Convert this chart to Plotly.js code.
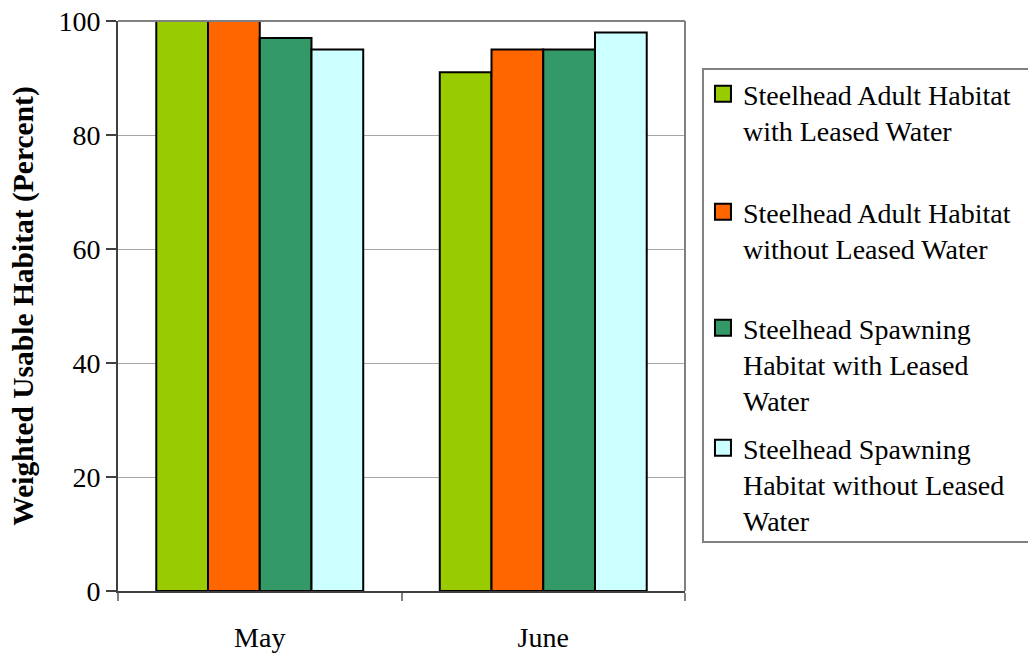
<!DOCTYPE html>
<html>
<head>
<meta charset="utf-8">
<script src="https://cdn.plot.ly/plotly-3.0.1.min.js"></script>
<style>html,body{margin:0;padding:0;background:#fff;}#chart{width:1028px;height:656px;}</style>
</head>
<body>
<div id="chart"></div>
<script>
var months = ["May", "June"];
var seriesNames = [
  "Steelhead Adult Habitat<br>with Leased Water",
  "Steelhead Adult Habitat<br>without Leased Water",
  "Steelhead Spawning<br>Habitat with Leased<br>Water",
  "Steelhead Spawning<br>Habitat without Leased<br>Water"
];
var adultWith = [100, 91];
var adultWithout = [100, 95];
var spawnWith = [97, 95];
var spawnWithout = [95, 98];
var yTickValues = [0, 20, 40, 60, 80, 100];

var seriesValues = [adultWith, adultWithout, spawnWith, spawnWithout];
var colors = ["#99CC00", "#FF6600", "#339966", "#CCFFFF"];
var legendIds = ["legend", "legend2", "legend3", "legend4"];
var legendY = [0.9158, 0.7087, 0.5053, 0.2948];

var FONT = "Liberation Serif, Times New Roman, serif";
var traces = [];
seriesValues.forEach(function (vals, i) {
  traces.push({
    type: "bar", x: months, y: vals, name: seriesNames[i], showlegend: false,
    marker: {color: colors[i], line: {color: "#000000", width: 2}},
    hoverinfo: "x+y"
  });
});
seriesValues.forEach(function (vals, i) {
  traces.push({
    type: "scatter", mode: "markers", x: [null], y: [null], name: seriesNames[i],
    legend: legendIds[i], showlegend: true,
    marker: {symbol: "square", size: 16, color: colors[i], line: {color: "#000000", width: 2}}
  });
});

var layout = {
  width: 1028, height: 656,
  margin: {l: 118, r: 343, t: 21, b: 65},
  paper_bgcolor: "#ffffff", plot_bgcolor: "#ffffff",
  font: {family: FONT, size: 28, color: "#000000"},
  barmode: "group", bargap: 0.27, bargroupgap: 0,
  xaxis: {
    type: "category", tickson: "boundaries", ticks: "outside", ticklen: 8,
    tickcolor: "#808080", tickwidth: 2, showline: true, linecolor: "#404040", linewidth: 2,
    showgrid: false, ticklabelstandoff: 20, tickfont: {family: FONT, size: 28},
    automargin: false
  },
  yaxis: {
    range: [0, 100], tickvals: yTickValues, ticks: "outside", ticklen: 10,
    tickcolor: "#404040", tickwidth: 2, showline: true, linecolor: "#404040", linewidth: 2,
    showgrid: true, gridcolor: "#A6A6A6", gridwidth: 1, zeroline: false,
    tickfont: {family: FONT, size: 28},
    automargin: "left",
    title: {text: "<b>Weighted Usable Habitat (Percent)</b>", font: {family: FONT, size: 29.5}, standoff: 16}
  },
  shapes: [
    {type: "line", xref: "paper", yref: "paper", x0: 0, x1: 1, y0: 1, y1: 1, line: {color: "#808080", width: 2}},
    {type: "line", xref: "paper", yref: "paper", x0: 1, x1: 1, y0: 0, y1: 1, line: {color: "#808080", width: 2}},
    {type: "rect", xref: "paper", yref: "paper", x0: 1.0317, x1: 1.63, y0: 0.086, y1: 0.9158, line: {color: "#808080", width: 2}, fillcolor: "rgba(0,0,0,0)"}
  ]
};
legendIds.forEach(function (id, i) {
  layout[id] = {
    x: 1.0317, xanchor: "left", y: legendY[i], yanchor: "top",
    bgcolor: "rgba(0,0,0,0)", borderwidth: 0, valign: "top",
    font: {family: FONT, size: 28, color: "#000000"}
  };
});

Plotly.newPlot("chart", traces, layout, {displayModeBar: false, staticPlot: true});
</script>
</body>
</html>
